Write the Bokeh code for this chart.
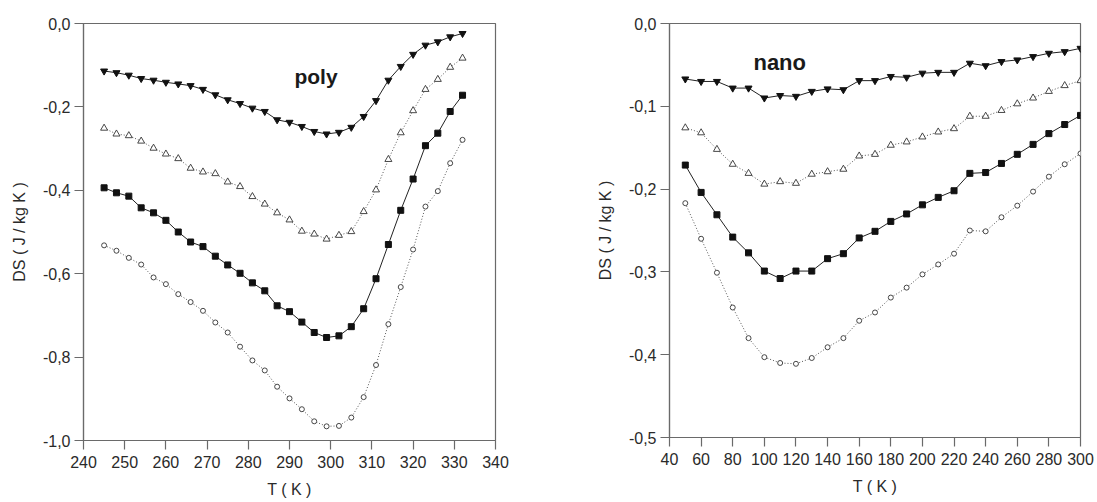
from bokeh.plotting import figure
from bokeh.layouts import row
from bokeh.models import FixedTicker, Label
from bokeh.embed import file_html
from bokeh.resources import INLINE

# ---------------- data ----------------
poly_T = [245, 248, 251, 254, 257, 260, 263, 266, 269, 272, 275, 278, 281, 284, 287,
          290, 293, 296, 299, 302, 305, 308, 311, 314, 317, 320, 323, 326, 329, 332]
poly_s1 = [-0.114, -0.118, -0.124, -0.132, -0.136, -0.141, -0.145, -0.149, -0.158, -0.171,
           -0.183, -0.192, -0.203, -0.211, -0.231, -0.237, -0.247, -0.259, -0.265, -0.261,
           -0.249, -0.223, -0.185, -0.136, -0.103, -0.074, -0.052, -0.044, -0.032, -0.024]
poly_s2 = [-0.251, -0.265, -0.269, -0.282, -0.299, -0.313, -0.324, -0.347, -0.356, -0.360,
           -0.380, -0.391, -0.415, -0.433, -0.454, -0.471, -0.498, -0.505, -0.517, -0.508,
           -0.499, -0.451, -0.399, -0.326, -0.262, -0.209, -0.158, -0.134, -0.105, -0.083]
poly_s3 = [-0.394, -0.406, -0.414, -0.442, -0.454, -0.472, -0.500, -0.524, -0.535, -0.558,
           -0.579, -0.599, -0.622, -0.641, -0.677, -0.691, -0.716, -0.741, -0.753, -0.749,
           -0.727, -0.684, -0.612, -0.530, -0.448, -0.373, -0.293, -0.263, -0.211, -0.172]
poly_s4 = [-0.532, -0.545, -0.562, -0.578, -0.609, -0.625, -0.649, -0.668, -0.689, -0.717,
           -0.741, -0.775, -0.808, -0.832, -0.871, -0.899, -0.925, -0.954, -0.966, -0.965,
           -0.945, -0.896, -0.819, -0.721, -0.632, -0.542, -0.439, -0.402, -0.335, -0.279]

nano_T = [50, 60, 70, 80, 90, 100, 110, 120, 130, 140, 150, 160, 170, 180, 190, 200,
          210, 220, 230, 240, 250, 260, 270, 280, 290, 300]
nano_s1 = [-0.067, -0.070, -0.070, -0.078, -0.078, -0.090, -0.087, -0.088, -0.082, -0.079,
           -0.080, -0.069, -0.069, -0.064, -0.065, -0.060, -0.059, -0.059, -0.048, -0.051,
           -0.046, -0.044, -0.040, -0.036, -0.034, -0.030]
nano_s2 = [-0.126, -0.132, -0.152, -0.170, -0.181, -0.194, -0.191, -0.193, -0.182, -0.179,
           -0.176, -0.160, -0.158, -0.147, -0.143, -0.137, -0.131, -0.127, -0.112, -0.112,
           -0.105, -0.097, -0.090, -0.082, -0.075, -0.069]
nano_s3 = [-0.171, -0.204, -0.231, -0.258, -0.277, -0.299, -0.308, -0.299, -0.299, -0.284,
           -0.278, -0.259, -0.251, -0.239, -0.230, -0.219, -0.210, -0.202, -0.181, -0.180,
           -0.169, -0.158, -0.146, -0.133, -0.122, -0.111]
nano_s4 = [-0.217, -0.260, -0.301, -0.343, -0.380, -0.403, -0.410, -0.411, -0.404, -0.391,
           -0.380, -0.359, -0.349, -0.331, -0.319, -0.303, -0.291, -0.278, -0.250, -0.251,
           -0.234, -0.220, -0.203, -0.185, -0.170, -0.157]

poly_xticks = [240, 250, 260, 270, 280, 290, 300, 310, 320, 330, 340]
poly_yticks = [0.0, -0.2, -0.4, -0.6, -0.8, -1.0]
poly_ylabels = ["0,0", "-0,2", "-0,4", "-0,6", "-0,8", "-1,0"]
nano_xticks = [40, 60, 80, 100, 120, 140, 160, 180, 200, 220, 240, 260, 280, 300]
nano_yticks = [0.0, -0.1, -0.2, -0.3, -0.4, -0.5]
nano_ylabels = ["0,0", "-0,1", "-0,2", "-0,3", "-0,4", "-0,5"]

x_title = "T ( K )"
y_title = "DS ( J / kg K )"

FONT = "Liberation Sans"
AX = "#6a6a6a"
TXT = "#2a2a2a"


def make_fig(xr, yr, fw, fh, bl, br, bt, bb):
    p = figure(frame_width=fw, frame_height=fh, x_range=xr, y_range=yr,
               output_backend="svg", toolbar_location=None,
               min_border_left=bl, min_border_right=br,
               min_border_top=bt, min_border_bottom=bb)
    p.xgrid.visible = False
    p.ygrid.visible = False
    p.outline_line_color = AX
    p.outline_line_width = 1.2
    p.background_fill_color = "white"
    p.border_fill_color = "white"
    for ax in (p.xaxis[0], p.yaxis[0]):
        ax.axis_line_color = AX
        ax.axis_line_width = 1.2
        ax.major_tick_line_color = AX
        ax.major_tick_line_width = 1.2
        ax.major_tick_in = 0
        ax.major_tick_out = 9
        ax.minor_tick_line_color = None
        ax.major_label_text_font = FONT
        ax.major_label_text_font_size = "16px"
        ax.major_label_text_color = TXT
        ax.axis_label_text_font = FONT
        ax.axis_label_text_font_size = "16px"
        ax.axis_label_text_font_style = "normal"
        ax.axis_label_text_color = TXT
    p.xaxis.major_label_standoff = 6
    p.yaxis.major_label_standoff = 4
    p.xaxis.axis_label_standoff = 10
    p.yaxis.axis_label_standoff = 12
    p.xaxis.axis_label = x_title
    p.yaxis.axis_label = y_title
    return p


def draw_series(p, T, s1, s2, s3, s4):
    p.line(T, s1, line_color="#222222", line_width=1)
    p.scatter(T, s1, marker="inverted_triangle", size=7, fill_color="#111111",
              line_color="#111111")
    p.line(T, s2, line_color="#555555", line_width=1, line_dash="1 2")
    p.scatter(T, s2, marker="triangle", size=7, fill_color="white",
              line_color="#333333", line_width=0.9)
    p.line(T, s3, line_color="#222222", line_width=1)
    p.scatter(T, s3, marker="square", size=6, fill_color="#111111",
              line_color="#111111")
    p.line(T, s4, line_color="#555555", line_width=1, line_dash="1 2")
    p.scatter(T, s4, marker="circle", size=5, fill_color="white",
              line_color="#333333", line_width=0.9)


# ---------------- poly ----------------
p1 = make_fig((240, 340), (-1.0, 0.0), 412, 417, 83, 53, 20, 65)
p1.xaxis.ticker = FixedTicker(ticks=poly_xticks)
p1.yaxis.ticker = FixedTicker(ticks=poly_yticks)
p1.yaxis.major_label_overrides = dict(zip(poly_yticks, poly_ylabels))
draw_series(p1, poly_T, poly_s1, poly_s2, poly_s3, poly_s4)
p1.add_layout(Label(x=291.2, y=-0.128, text="poly", text_font=FONT,
                    text_font_size="21px", text_font_style="bold",
                    text_color="#1a1a1a", text_baseline="alphabetic"))

# ---------------- nano ----------------
p2 = make_fig((40, 300), (-0.5, 0.0), 411, 414, 121, 17, 23, 65)
p2.xaxis.ticker = FixedTicker(ticks=nano_xticks)
p2.yaxis.ticker = FixedTicker(ticks=nano_yticks)
p2.yaxis.major_label_overrides = dict(zip(nano_yticks, nano_ylabels))
draw_series(p2, nano_T, nano_s1, nano_s2, nano_s3, nano_s4)
p2.add_layout(Label(x=93.1, y=-0.0476, text="nano", text_font=FONT,
                    text_font_size="22px", text_font_style="bold",
                    text_color="#1a1a1a", text_baseline="alphabetic"))

layout = row(p1, p2, spacing=0)
open("out.html", "w").write(file_html(layout, INLINE))
